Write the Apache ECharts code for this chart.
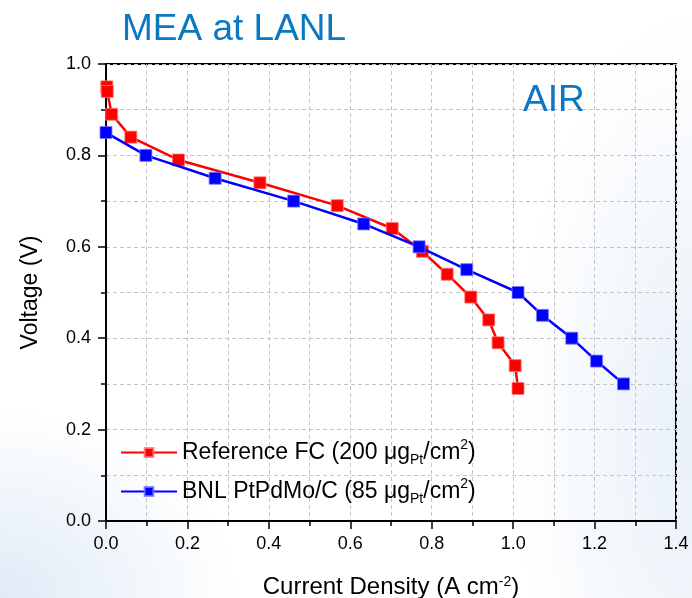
<!DOCTYPE html>
<html>
<head>
<meta charset="utf-8">
<script src="https://cdn.jsdelivr.net/npm/echarts@6/dist/echarts.min.js"></script>
<style>
html,body{margin:0;padding:0;}
#chart{width:692px;height:598px;
background:
 radial-gradient(ellipse 240px 190px at 0px 598px, rgba(218,231,245,0.85), rgba(218,231,245,0) 100%),
 radial-gradient(ellipse 180px 420px at 692px 430px, rgba(226,236,247,0.8), rgba(226,236,247,0) 100%),
 #ffffff;}
</style>
</head>
<body>
<div id="chart"></div>
<script>
const refCurrent = [0.002, 0.003, 0.014, 0.061, 0.178, 0.378, 0.568, 0.703, 0.777, 0.838, 0.896, 0.940, 0.963, 1.005, 1.012];
const refVoltage = [0.95, 0.94, 0.89, 0.84, 0.79, 0.74, 0.69, 0.64, 0.59, 0.54, 0.49, 0.44, 0.39, 0.34, 0.29];
const bnlCurrent = [0.0, 0.098, 0.268, 0.461, 0.633, 0.769, 0.886, 1.012, 1.072, 1.144, 1.205, 1.271];
const bnlVoltage = [0.85, 0.80, 0.75, 0.70, 0.65, 0.60, 0.55, 0.50, 0.45, 0.40, 0.35, 0.30];
const seriesNames = ['Reference FC', 'BNL PtPdMo/C'];
const loadings = ['200', '85'];
const xTicks = [0.0, 0.2, 0.4, 0.6, 0.8, 1.0, 1.2, 1.4];
const yTicks = [0.0, 0.2, 0.4, 0.6, 0.8, 1.0];

function pairs(xs, ys) { return xs.map((x, i) => [x, ys[i]]); }

const chart = echarts.init(document.getElementById('chart'));
const FONT = 'Liberation Sans, Arial, sans-serif';
const gridDash = {color: '#c4c4c4', type: [4, 3], width: 1};

chart.setOption({
  backgroundColor: 'transparent',
  title: [
    {text: 'MEA at LANL', left: 117, top: 6,
     textStyle: {color: '#0a78c2', fontSize: 37, fontWeight: 'normal', fontFamily: FONT}},
    {text: 'AIR', left: 518, top: 77,
     textStyle: {color: '#0a78c2', fontSize: 37, fontWeight: 'normal', fontFamily: FONT}}
  ],
  grid: {left: 106, right: 16, top: 64, bottom: 77, show: true,
         outerBoundsMode: 'none', containLabel: false,
         borderColor: '#000', borderWidth: 2, backgroundColor: 'transparent'},
  legend: {
    data: seriesNames,
    orient: 'vertical', left: 115, top: 433, itemGap: 10,
    itemWidth: 56, itemHeight: 11,
    formatter: function (name) {
      const i = seriesNames.indexOf(name);
      return '{a|' + name + ' (' + loadings[i] + ' \u03bcg}{sub|Pt}{a|/cm}{sup|2}{a|)}';
    },
    textStyle: {
      color: '#000', fontFamily: FONT, fontSize: 23,
      rich: {
        a: {fontSize: 23, fontFamily: FONT, color: '#000', lineHeight: 29, verticalAlign: 'middle'},
        sub: {fontSize: 14, fontFamily: FONT, color: '#000', lineHeight: 14, verticalAlign: 'bottom'},
        sup: {fontSize: 14, fontFamily: FONT, color: '#000', lineHeight: 14, verticalAlign: 'top'}
      }
    }
  },
  xAxis: {
    type: 'value', min: 0, max: 1.4, interval: 0.2,
    name: 'Current Density (A cm{sup|-2})',
    nameLocation: 'middle', nameGap: 54,
    nameTextStyle: {color: '#000', fontSize: 24, fontFamily: FONT,
      rich: {sup: {fontSize: 14, fontFamily: FONT, color: '#000', verticalAlign: 'top', lineHeight: 12}}},
    axisLine: {show: true, onZero: false, lineStyle: {color: '#000', width: 2}},
    axisTick: {show: true, length: 8, lineStyle: {color: '#000', width: 1.5}},
    minorTick: {show: true, splitNumber: 2, length: 5, lineStyle: {color: '#000', width: 1.5}},
    axisLabel: {color: '#000', fontSize: 18, fontFamily: FONT, margin: 14,
      formatter: v => v.toFixed(1)},
    splitLine: {show: true, lineStyle: gridDash},
    minorSplitLine: {show: true, lineStyle: gridDash}
  },
  yAxis: {
    type: 'value', min: 0, max: 1.0, interval: 0.2,
    name: 'Voltage (V)', nameLocation: 'middle', nameGap: 64,
    nameTextStyle: {color: '#000', fontSize: 23, fontFamily: FONT},
    axisLine: {show: true, onZero: false, lineStyle: {color: '#000', width: 2}},
    axisTick: {show: true, length: 8, lineStyle: {color: '#000', width: 1.5}},
    minorTick: {show: true, splitNumber: 2, length: 5, lineStyle: {color: '#000', width: 1.5}},
    axisLabel: {color: '#000', fontSize: 18, fontFamily: FONT, margin: 15,
      formatter: v => v.toFixed(1)},
    splitLine: {show: true, lineStyle: gridDash},
    minorSplitLine: {show: true, lineStyle: gridDash}
  },
  series: [
    {name: seriesNames[0], type: 'line', data: pairs(refCurrent, refVoltage),
     symbol: 'rect', symbolSize: 12, color: '#ff0000',
     lineStyle: {color: '#ff0000', width: 2.5},
     itemStyle: {color: '#ff0000', borderColor: 'rgba(255,120,120,0.8)', borderWidth: 1},
     z: 3},
    {name: seriesNames[1], type: 'line', data: pairs(bnlCurrent, bnlVoltage),
     symbol: 'rect', symbolSize: 12, color: '#0000ff',
     lineStyle: {color: '#0000ff', width: 2.5},
     itemStyle: {color: '#0000ff', borderColor: 'rgba(120,120,255,0.8)', borderWidth: 1},
     z: 4}
  ],
  animation: false
});
</script>
</body>
</html>
